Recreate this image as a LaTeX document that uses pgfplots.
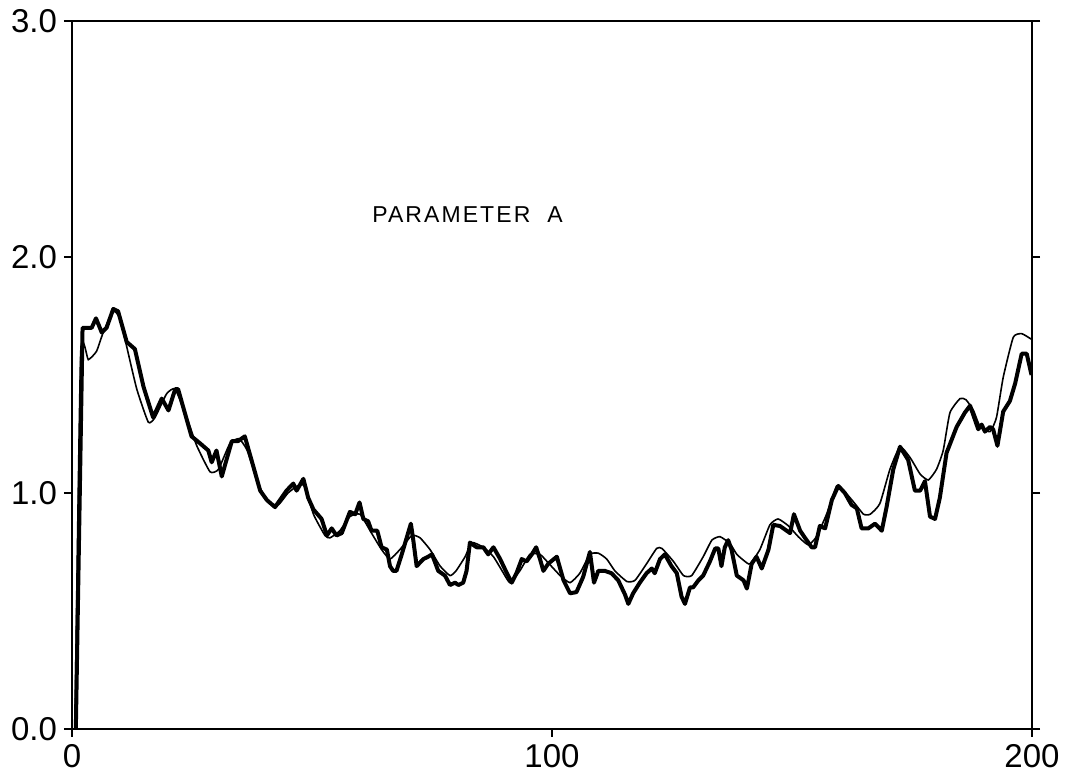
\documentclass[border=0pt]{standalone}
\usepackage{pgfplots}
\pgfplotsset{compat=1.18}
\usepackage{fontspec}
\setmainfont{Liberation Sans}
\newfontfamily\labfont[LetterSpace=9]{Liberation Sans}
\begin{document}
\begin{tikzpicture}
\begin{axis}[
  name=ax,
  scale only axis,
  width=480pt, height=354pt,
  xmin=0, xmax=200, ymin=0, ymax=3,
  xtick={0,100,200}, xticklabels={0,100,200},
  ytick={0,1,2,3}, yticklabels={0.0,1.0,2.0,3.0},
  xtick pos=lower, ytick pos=both,
  tick align=outside,
  major tick length=4pt,
  axis line style={line width=1pt},
  every tick/.style={line width=0.8pt, black},
  ticklabel style={font=\fontsize{16.5}{16.5}\selectfont},
  clip=true,
]
\addplot[black, line width=0.8pt, smooth, tension=0.3] coordinates {
(0.6,0) (1.8,1.59) (3.4,1.565) (5.1,1.60) (6.5,1.68) (8.6,1.77) (10,1.74) (11.4,1.62)
(13.5,1.44) (15.9,1.30) (17.3,1.32) (19.7,1.42) (21.5,1.44) (23.9,1.32) (26.0,1.20)
(28.75,1.09) (30.5,1.10) (32.9,1.21) (34.8,1.23) (36.5,1.18) (39,1.03) (41,0.96)
(43,0.95) (45,1.00) (47,1.03) (48.5,1.03) (50.3,0.91) (52.7,0.82) (53.75,0.81)
(55.8,0.84) (57.9,0.90) (60,0.91) (62.4,0.83) (64.5,0.76) (66.25,0.72) (68.3,0.76)
(70.8,0.82) (72.5,0.81) (74.6,0.76) (76.7,0.69) (78.75,0.65) (80,0.67) (81.9,0.73)
(83.3,0.79) (85.7,0.77) (87.8,0.73) (89.9,0.66) (91.25,0.62) (93.3,0.67) (95.4,0.74)
(97.5,0.74) (99.4,0.70) (101.7,0.65) (103.75,0.62) (105.8,0.66) (107.9,0.74)
(109.65,0.745) (111.4,0.72) (113.1,0.67) (115.6,0.625) (117.3,0.63) (119.7,0.70)
(121.8,0.765) (122.9,0.765) (125.3,0.71) (127.4,0.65) (129.1,0.65) (131.5,0.73)
(133.3,0.80) (135.0,0.815) (137.1,0.785) (138.5,0.74) (140.2,0.71) (141.25,0.70)
(143.3,0.76) (145.4,0.865) (147.1,0.89) (149.3,0.86) (151.3,0.815) (153.4,0.78)
(155.1,0.815) (157.2,0.91) (159.3,1.03) (160.8,1.01) (163.1,0.955) (164.9,0.91)
(166.3,0.91) (168.3,0.955) (170.4,1.10) (172.5,1.196) (174.6,1.15) (176.7,1.08)
(178.4,1.055) (180.1,1.10) (181.5,1.18) (182.9,1.34) (185,1.40) (186.25,1.395)
(187.8,1.35) (189.2,1.28) (191.25,1.26) (192.6,1.32) (194.0,1.49) (196.1,1.66)
(197.85,1.675) (199.6,1.655) (200,1.65)
};
\addplot[black, line width=2pt, line join=round] coordinates {
(0.8,0) (2.2,1.70) (4.1,1.70) (5.0,1.74) (6.2,1.68) (7.2,1.70) (8.6,1.78) (9.6,1.77)
(11.4,1.64) (13.1,1.61) (14.9,1.45) (16.9,1.32) (18.7,1.40) (20.1,1.35) (21.5,1.44)
(22.1,1.44) (24.9,1.24) (26.7,1.21) (28.4,1.18) (29.1,1.13) (30.1,1.18) (31.2,1.07)
(33.3,1.22) (34.6,1.22) (36.0,1.24) (39.2,1.01) (40.6,0.97) (42.3,0.94) (44.7,1.01)
(46.1,1.04) (46.8,1.01) (48.2,1.06) (49.2,0.98) (50.3,0.93) (52.0,0.89) (53.1,0.82)
(54.1,0.85) (55.1,0.82) (56.2,0.83) (57.9,0.92) (59.0,0.91) (59.9,0.96) (60.7,0.89)
(61.7,0.88) (62.4,0.84) (63.6,0.84) (64.5,0.77) (65.6,0.76) (66.25,0.69) (66.9,0.67)
(67.6,0.67) (68.7,0.74) (70.6,0.87) (71.1,0.80) (71.8,0.69) (73.2,0.72) (74.2,0.73)
(75.0,0.74) (76.3,0.67) (77.7,0.65) (78.75,0.61) (79.8,0.62) (80.5,0.61) (81.5,0.62)
(82.2,0.67) (82.9,0.79) (84.3,0.77) (85.7,0.77) (86.7,0.74) (87.8,0.77) (89.2,0.72)
(90.6,0.66) (91.6,0.62) (92.6,0.66) (93.7,0.72) (94.7,0.71) (95.8,0.74) (96.7,0.77)
(97.5,0.72) (98.2,0.67) (99.2,0.70) (101.0,0.73) (102.4,0.63) (103.75,0.575)
(105.1,0.58) (106.5,0.645) (107.9,0.75) (108.75,0.62) (109.65,0.67) (111.0,0.67)
(112.4,0.66) (113.8,0.63) (115.2,0.57) (115.9,0.53) (116.9,0.575) (118.3,0.62)
(119.7,0.66) (120.8,0.68) (121.4,0.66) (122.5,0.72) (123.5,0.74) (124.9,0.69)
(126.0,0.66) (127.0,0.56) (127.7,0.53) (128.75,0.60) (129.4,0.60) (130.5,0.63)
(131.5,0.65) (132.9,0.71) (134.0,0.765) (134.65,0.765) (135.3,0.69) (136.0,0.77)
(136.7,0.80) (137.4,0.76) (138.5,0.65) (139.9,0.63) (140.6,0.595) (141.6,0.70)
(142.6,0.73) (143.7,0.68) (145.1,0.76) (146.1,0.865) (147.5,0.86) (149.6,0.83)
(150.4,0.91) (151.7,0.84) (152.7,0.81) (154.1,0.77) (154.8,0.77) (155.8,0.86)
(156.9,0.85) (158.3,0.97) (159.65,1.03) (161.0,1.00) (162.4,0.95) (163.5,0.935)
(164.5,0.85) (165.9,0.85) (167.3,0.87) (168.7,0.84) (169.7,0.94) (171.1,1.10)
(172.5,1.196) (174.2,1.14) (175.6,1.01) (176.7,1.01) (177.7,1.05) (178.75,0.90)
(179.8,0.89) (180.8,0.98) (182.2,1.17) (184.3,1.28) (186.0,1.34) (187.1,1.37)
(188.8,1.27) (189.5,1.29) (190.2,1.26) (191.25,1.28) (191.9,1.27) (192.8,1.20)
(194.0,1.345) (195.4,1.39) (196.5,1.465) (197.85,1.59) (198.9,1.59) (199.9,1.50)
};
\node[anchor=west, inner sep=0pt, font=\labfont\fontsize{11.5}{11.5}\selectfont] at (axis cs:62.5,2.18) {PARAMETER\ \ A};
\end{axis}
\pgfresetboundingbox
\path[use as bounding box] ([xshift=-36pt,yshift=-24.5pt]ax.south west) rectangle ([xshift=22pt,yshift=10.5pt]ax.north east);
\end{tikzpicture}
\end{document}
